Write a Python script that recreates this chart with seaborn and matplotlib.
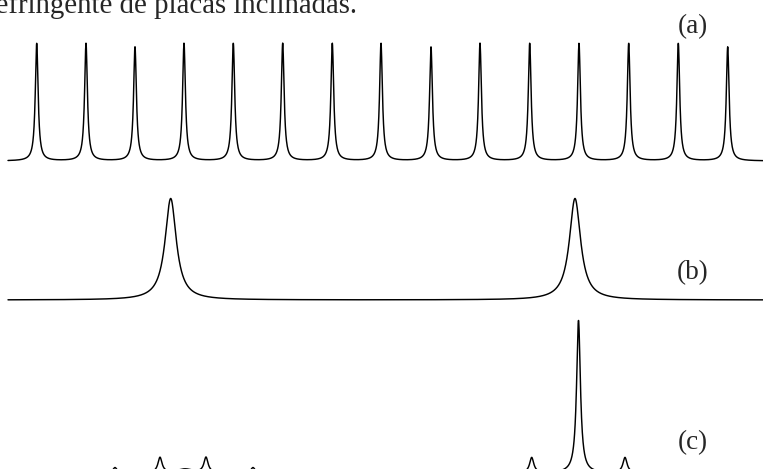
import numpy as np
import pandas as pd
import matplotlib
matplotlib.use("Agg")
import matplotlib.pyplot as plt
import seaborn as sns

# peak positions (arbitrary x units), relative heights and half widths
a_centers = [36.7, 86.0, 135.0, 184.0, 233.3, 282.7, 332.3, 381.0,
             431.0, 480.0, 529.7, 579.0, 628.7, 678.3, 727.7]
a_heights = [1.0, 1.0, 0.97, 1.0, 1.0, 1.0, 1.0, 1.0,
             0.97, 1.0, 1.0, 1.0, 1.0, 1.0, 0.97]
a_widths = [1.7] * 15

b_centers = [170.7, 575.0]
b_heights = [1.0, 1.0]
b_widths = [6.8, 6.8]

c_centers = [115.0, 160.0, 185.0, 206.0, 253.0, 531.7, 578.5, 625.0]
c_heights = [0.035, 0.10, 0.025, 0.10, 0.035, 0.10, 1.0, 0.10]
c_widths = [2.5, 2.5, 10.0, 2.5, 2.5, 2.5, 2.3, 2.5]

labels = ["(a)", "(b)", "(c)"]
caption = "birrefringente de placas inclinadas."

W, H = 763, 469


def spectrum(x, centers, heights, widths):
    y = np.zeros_like(x)
    for c, h, g in zip(centers, heights, widths):
        y += h * g**2 / ((x - c)**2 + g**2)
    return y


def main():
    sns.set_style("white")
    plt.rcParams["font.family"] = ["Liberation Serif", "DejaVu Serif"]

    fig = plt.figure(figsize=(W / 100, H / 100), dpi=100)
    x = np.linspace(8, 763, 4000)

    panels = [
        (a_centers, a_heights, a_widths, 161.0, 43.5, 27.0),
        (b_centers, b_heights, b_widths, 300.0, 198.5, 273.0),
        (c_centers, c_heights, c_widths, 473.0, 320.5, 443.0),
    ]
    lo, hi = -0.1, 1.1
    for (cen, hts, wid, p0, p1, ly), lab in zip(panels, labels):
        scale = p0 - p1
        bottom_px = p0 - lo * scale
        ax = fig.add_axes([0, 1 - bottom_px / H, 1, (hi - lo) * scale / H])
        df = pd.DataFrame({"x": x, "y": spectrum(x, cen, hts, wid)})
        sns.lineplot(x="x", y="y", data=df, ax=ax, color="black", lw=1.05,
                     estimator=None, sort=False)
        ax.set_xlim(0, W)
        ax.set_ylim(lo, hi)
        ax.axis("off")
        fig.text(692.5 / W, 1 - ly / H, lab, ha="center", va="center",
                 fontsize=19.5)

    fig.text(357 / W, 1 - 13 / H, caption, ha="right", va="baseline",
             fontsize=20.8)

    fig.savefig("out.png", dpi=100)


if __name__ == "__main__":
    main()
